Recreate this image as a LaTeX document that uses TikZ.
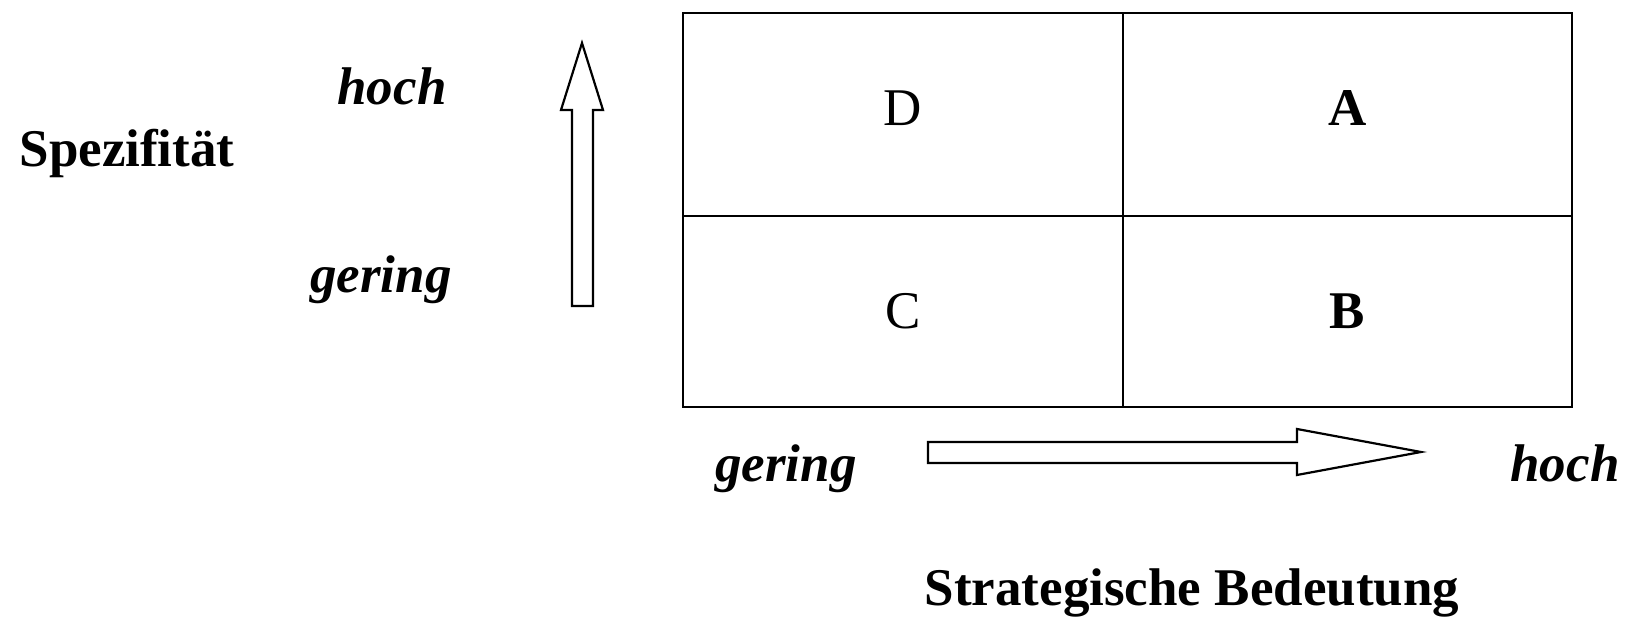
\documentclass[tikz,border=0pt]{standalone}
\usepackage{fontspec}
\setmainfont{Liberation Serif}
\usetikzlibrary{positioning}

\begin{document}
\begin{tikzpicture}[x=0.5pt,y=-0.5pt,
    cell/.style={draw,line width=1.1pt,outer sep=0pt,inner sep=0pt,minimum width=220pt,font=\fontsize{26.5}{32}\selectfont},
    lbl/.style={anchor=base,inner sep=0pt,font=\fontsize{26.5}{32}\selectfont\bfseries\itshape},
    axisname/.style={anchor=base,inner sep=0pt,font=\fontsize{26.5}{32}\selectfont\bfseries},
    blockarrow/.style={draw,line width=1.1pt,fill=white,line join=miter}]
  \useasboundingbox (0,0) rectangle (1634,619);

  % matrix
  \node[cell,minimum height=101.5pt,text depth=6pt] (d) at (903,114.5) {D};
  \node[cell,minimum height=101.5pt,text depth=6pt,minimum width=224.5pt,right=0pt of d,font=\fontsize{26.5}{32}\selectfont\bfseries] (a) {A};
  \node[cell,minimum height=95.5pt,below=0pt of d] (c) {C};
  \node[cell,minimum height=95.5pt,minimum width=224.5pt,right=0pt of c,font=\fontsize{26.5}{32}\selectfont\bfseries] (b) {B};

  % vertical axis
  \node[axisname] (spez) at (127,167) {Spezifität};
  \node[lbl] (vhoch) at (392,105) {hoch};
  \node[lbl] (vgering) at (381,293) {gering};
  \draw[blockarrow] (572,306) -- (572,110) -- (561,110) -- (582,43) -- (603,110) -- (593,110) -- (593,306) -- cycle;

  % horizontal axis
  \node[lbl] (hgering) at (786,482) {gering};
  \node[lbl] (hhoch) at (1565,482) {hoch};
  \node[axisname] (bed) at (1192,606) {Strategische Bedeutung};
  \draw[blockarrow] (928,442) -- (1297,442) -- (1297,429) -- (1421,452) -- (1297,475) -- (1297,463) -- (928,463) -- cycle;
\end{tikzpicture}
\end{document}
